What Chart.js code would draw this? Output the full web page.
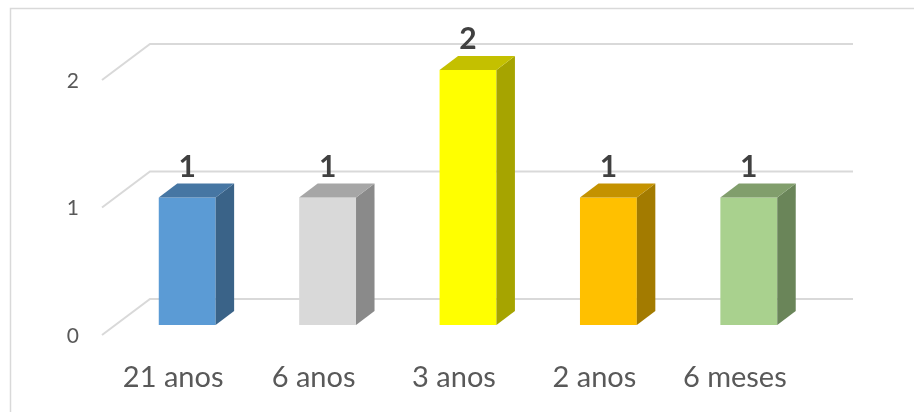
<!DOCTYPE html>
<html>
<head>
<meta charset="utf-8">
<script src="https://cdn.jsdelivr.net/npm/chart.js@4"></script>
<style>
html, body { margin: 0; padding: 0; background: #fff; }
</style>
</head>
<body>
<canvas id="ageChart" width="914" height="412"></canvas>
<script>
const categories = ["21 anos", "6 anos", "3 anos", "2 anos", "6 meses"];
const counts = [1, 1, 2, 1, 1];
const yTicks = [0, 1, 2];

const frontColors = ["#5b9bd5", "#d9d9d9", "#ffff00", "#ffc000", "#a9d18e"];
const topColors = ["#4676a3", "#a6a6a6", "#c4c000", "#c49200", "#819e6c"];
const sideColors = ["#3a6388", "#8a8a8a", "#a6a400", "#a37b00", "#6a8559"];

// 3d look: bar depth and back wall offset (pixels)
const DX = 18.5, DY = -14;
const WX = 33, WY = -26;

const fake3d = {
  id: 'fake3d',
  beforeDraw(chart) {
    const ctx = chart.ctx;
    const area = chart.chartArea;
    const y = chart.scales.y;
    ctx.save();
    ctx.fillStyle = '#fff';
    ctx.fillRect(0, 0, chart.width, chart.height);
    // outer frame
    ctx.strokeStyle = '#d9d9d9';
    ctx.lineWidth = 1.5;
    ctx.beginPath();
    ctx.moveTo(10.5, chart.height + 2);
    ctx.lineTo(10.5, 8.5);
    ctx.lineTo(chart.width + 2, 8.5);
    ctx.stroke();
    // back wall + floor gridlines
    ctx.lineWidth = 2;
    yTicks.forEach(v => {
      const py = y.getPixelForValue(v) + WY;
      ctx.beginPath();
      ctx.moveTo(area.left - 15, py + 36);
      ctx.lineTo(area.left + WX, py);
      ctx.lineTo(area.right + 34, py);
      ctx.stroke();
    });
    ctx.restore();
  },
  afterDatasetsDraw(chart) {
    const ctx = chart.ctx;
    const meta = chart.getDatasetMeta(0);
    ctx.save();
    meta.data.forEach((bar, i) => {
      const l = bar.x - bar.width / 2, r = bar.x + bar.width / 2;
      const t = bar.y, b = bar.base;
      ctx.fillStyle = sideColors[i];
      ctx.beginPath();
      ctx.moveTo(r, t); ctx.lineTo(r + DX, t + DY); ctx.lineTo(r + DX, b + DY); ctx.lineTo(r, b);
      ctx.closePath(); ctx.fill();
      ctx.fillStyle = topColors[i];
      ctx.beginPath();
      ctx.moveTo(l, t); ctx.lineTo(l + DX, t + DY); ctx.lineTo(r + DX, t + DY); ctx.lineTo(r, t);
      ctx.closePath(); ctx.fill();
      ctx.fillStyle = '#404040';
      ctx.font = 'bold 30px Lato';
      ctx.textAlign = 'center';
      ctx.textBaseline = 'alphabetic';
      ctx.fillText(String(counts[i]), bar.x, t - 21);
    });
    ctx.restore();
  }
};

new Chart(document.getElementById('ageChart'), {
  type: 'bar',
  data: {
    labels: categories,
    datasets: [{
      data: counts,
      backgroundColor: frontColors,
      barPercentage: 0.405,
      categoryPercentage: 1
    }]
  },
  options: {
    responsive: false,
    animation: false,
    layout: { padding: { left: 0, right: 95, top: 70, bottom: 0 } },
    plugins: { legend: { display: false }, tooltip: { enabled: false } },
    scales: {
      x: {
        grid: { display: false, drawTicks: false },
        border: { display: false },
        ticks: { color: '#595959', font: { family: 'Lato', size: 29 }, padding: 35, labelOffset: -14, maxRotation: 0, autoSkip: false },
        afterFit(s) { s.height = 87; }
      },
      y: {
        min: 0, max: 2,
        grid: { display: false, drawTicks: false },
        border: { display: false },
        ticks: { stepSize: 1, color: '#595959', font: { family: 'Lato', size: 21 }, padding: 38, labelOffset: 11 },
        afterBuildTicks(s) { s.ticks = yTicks.map(v => ({ value: v })); },
        afterFit(s) { s.width = 117; }
      }
    }
  },
  plugins: [fake3d]
});
</script>
</body>
</html>
